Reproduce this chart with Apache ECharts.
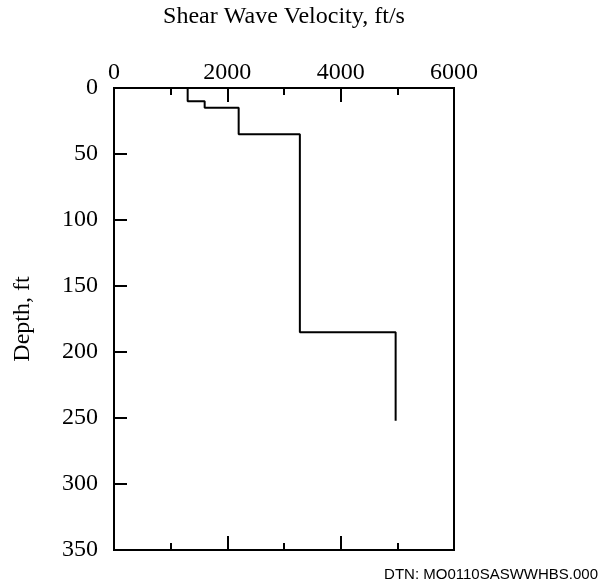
<!DOCTYPE html>
<html>
<head>
<meta charset="utf-8">
<script src="https://cdn.jsdelivr.net/npm/echarts@6/dist/echarts.min.js"></script>
<style>
  html, body { margin: 0; padding: 0; background: #fff; }
  #chart { width: 610px; height: 585px; }
</style>
</head>
<body>
<div id="chart"></div>
<script>
// velocity profile (step plot)
var velocity = [1300, 1300, 1600, 1600, 2200, 2200, 3280, 3280, 4970, 4970];
var depth    = [0,    10,   10,   15,   15,   35,   35,   185,  185,  252];

var velTicks = [0, 2000, 4000, 6000];
var depthTicks = [0, 50, 100, 150, 200, 250, 300, 350];

var serif = 'Liberation Serif';

var points = [];
for (var i = 0; i < velocity.length; i++) {
    points.push([velocity[i], depth[i]]);
}

function plain(v) {
    return String(v);
}

var myChart = echarts.init(document.getElementById('chart'));

var option = {
    animation: false,
    backgroundColor: '#fff',
    grid: {
        left: 114, right: 156, top: 85, bottom: 35,
        show: true,
        borderColor: '#000',
        borderWidth: 2
    },
    xAxis: [
        {
            type: 'value',
            position: 'top',
            min: velTicks[0],
            max: velTicks[velTicks.length - 1],
            interval: 2000,
            name: 'Shear Wave Velocity, ft/s',
            nameLocation: 'middle',
            nameGap: 59,
            nameTextStyle: { fontFamily: serif, fontSize: 24, color: '#000' },
            axisLine: { show: false },
            axisTick: { show: true, inside: true, length: 14, lineStyle: { color: '#000', width: 2 } },
            minorTick: { show: true, splitNumber: 2, length: 7, lineStyle: { color: '#000', width: 2 } },
            axisLabel: { fontFamily: serif, fontSize: 24, color: '#000', margin: 3, formatter: plain },
            splitLine: { show: false }
        },
        {
            type: 'value',
            position: 'bottom',
            min: velTicks[0],
            max: velTicks[velTicks.length - 1],
            interval: 2000,
            axisLine: { show: false },
            axisTick: { show: true, inside: true, length: 14, lineStyle: { color: '#000', width: 2 } },
            minorTick: { show: true, splitNumber: 2, length: 7, lineStyle: { color: '#000', width: 2 } },
            axisLabel: { show: false },
            splitLine: { show: false }
        }
    ],
    yAxis: {
        type: 'value',
        inverse: true,
        min: depthTicks[0],
        max: depthTicks[depthTicks.length - 1],
        interval: 50,
        name: 'Depth, ft',
        nameLocation: 'middle',
        nameGap: 79,
        nameRotate: 90,
        nameTextStyle: { fontFamily: serif, fontSize: 24, color: '#000' },
        axisLine: { show: false },
        axisTick: { show: true, inside: true, length: 13, lineStyle: { color: '#000', width: 2 } },
        axisLabel: { fontFamily: serif, fontSize: 24, color: '#000', margin: 16, formatter: plain },
        splitLine: { show: false }
    },
    graphic: [
        {
            type: 'text',
            right: 12,
            top: 567,
            style: {
                text: 'DTN: MO0110SASWWHBS.000',
                font: '15px "Liberation Sans"',
                fill: '#000'
            }
        }
    ],
    series: [
        {
            type: 'line',
            xAxisIndex: 0,
            data: points,
            showSymbol: false,
            lineStyle: { color: '#000', width: 2 }
        }
    ]
};

myChart.setOption(option);
</script>
</body>
</html>
